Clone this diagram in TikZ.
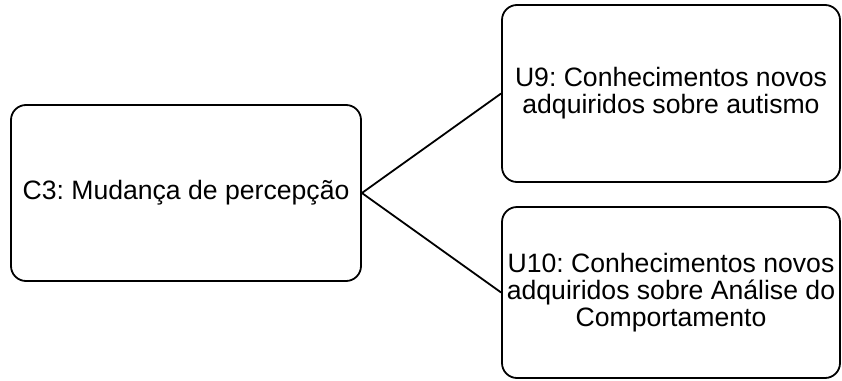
\documentclass[tikz,border=0pt]{standalone}
\usepackage{fontspec}
\setmainfont{Liberation Sans}
\frenchspacing
\begin{document}
\begin{tikzpicture}[x=1pt,y=-1pt,
  box/.style={draw=black, line width=1.8pt, rounded corners=15pt, align=center,
    font=\fontsize{26.6}{27}\selectfont, inner sep=0pt},
  link/.style={draw=black, line width=1.8pt}]
\useasboundingbox (0,0) rectangle (842,380);
\node[box, minimum width=350pt, minimum height=176pt] (c3) at (186,193) {C3: Mudança de percepção};
\node[box, minimum width=338pt, minimum height=177pt] (u9) at (671,93.5) {U9: Conhecimentos novos\\adquiridos sobre autismo};
\node[box, minimum width=338pt, minimum height=171pt] (u10) at (671,292.5) {U10: Conhecimentos novos\\adquiridos sobre Análise do\\Comportamento};
\draw[link] (c3.east) -- (u9.west);
\draw[link] (c3.east) -- (u10.west);
\end{tikzpicture}
\end{document}
